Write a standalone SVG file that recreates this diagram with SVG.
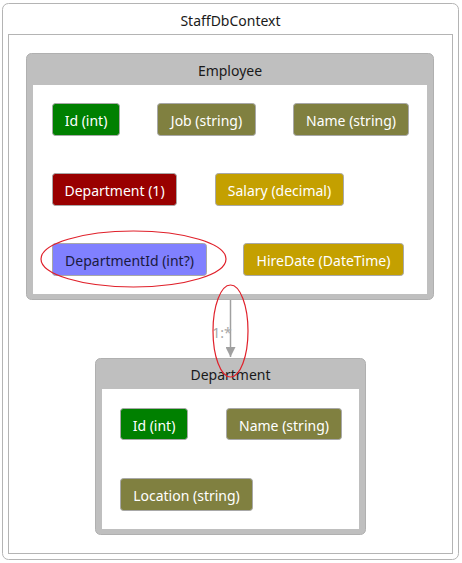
<svg xmlns="http://www.w3.org/2000/svg" width="462" height="563" viewBox="0 0 462 563">
<style>
text{font-family:"Noto Sans","DejaVu Sans",sans-serif;font-size:14px;text-anchor:middle;dominant-baseline:central}
.title{fill:#1a1a1a}
.f{stroke:#a8a8a8;stroke-width:1}
.ft{fill:#ffffff}
.ent{fill:#bfbfbf;stroke:#b0b0b0;stroke-width:1}
.hl{fill:none;stroke:#e0202a;stroke-width:1.2}
</style>
<defs>
<marker id="arr" viewBox="0 0 10 10" refX="10" refY="5" markerWidth="10" markerHeight="10" markerUnits="userSpaceOnUse" orient="auto">
<path d="M0,0 L10,5 L0,10 z" fill="#a0a0a0"/>
</marker>
</defs>
<g id="context">
<rect x="2.5" y="3.5" width="456" height="556" rx="6" fill="#fff" stroke="#b4b4b4"/>
<text class="title" x="230.5" y="20">StaffDbContext</text>
<rect x="8.5" y="34.5" width="444" height="519" fill="#fff" stroke="#b4b4b4"/>
</g>
<g id="employee">
<rect class="ent" x="26.5" y="53.5" width="407" height="246" rx="5"/>
<text class="title" x="230" y="70">Employee</text>
<rect x="33" y="85" width="394" height="209" fill="#fff"/>
<g id="emp-id"><rect class="f" x="52.5" y="103.5" width="67" height="32" rx="3" fill="#008000"/><text class="ft" x="86" y="120">Id (int)</text></g>
<g id="emp-job"><rect class="f" x="157.5" y="103.5" width="98" height="32" rx="3" fill="#808040"/><text class="ft" x="206.5" y="120">Job (string)</text></g>
<g id="emp-name"><rect class="f" x="293.5" y="103.5" width="115" height="32" rx="3" fill="#808040"/><text class="ft" x="351" y="120">Name (string)</text></g>
<g id="emp-department"><rect class="f" x="52.5" y="173.5" width="124" height="32" rx="3" fill="#990000"/><text class="ft" x="114.5" y="190">Department (1)</text></g>
<g id="emp-salary"><rect class="f" x="215.5" y="173.5" width="128" height="32" rx="3" fill="#c4a000"/><text class="ft" x="279.5" y="190">Salary (decimal)</text></g>
<g id="emp-departmentid"><rect class="f" x="52.5" y="243.5" width="154" height="32" rx="3" fill="#8080ff"/><text x="129.5" y="260" fill="#1a1a40">DepartmentId (int?)</text></g>
<g id="emp-hiredate"><rect class="f" x="243.5" y="243.5" width="160" height="32" rx="3" fill="#c4a000"/><text class="ft" x="323.5" y="260">HireDate (DateTime)</text></g>
</g>
<g id="department">
<rect class="ent" x="95.5" y="358.5" width="270" height="176" rx="5"/>
<text class="title" x="230.5" y="374">Department</text>
<rect x="102" y="389" width="257" height="140" fill="#fff"/>
<g id="dep-id"><rect class="f" x="120.5" y="408.5" width="67" height="31" rx="3" fill="#008000"/><text class="ft" x="154" y="425">Id (int)</text></g>
<g id="dep-name"><rect class="f" x="226.5" y="408.5" width="115" height="31" rx="3" fill="#808040"/><text class="ft" x="284" y="425">Name (string)</text></g>
<g id="dep-location"><rect class="f" x="120.5" y="478.5" width="132" height="32" rx="3" fill="#808040"/><text class="ft" x="186.5" y="495">Location (string)</text></g>
</g>
<g id="connectors">
<line x1="230.5" y1="300" x2="230.5" y2="357" stroke="#a0a0a0" stroke-width="1.5" marker-end="url(#arr)"/>
<text x="222" y="332" fill="#a8a8a8">1:*</text>
</g>
<g id="highlights">
<ellipse class="hl" cx="133.5" cy="259" rx="92.5" ry="28"/>
<ellipse class="hl" cx="230.5" cy="331" rx="17.5" ry="46"/>
</g>
</svg>
